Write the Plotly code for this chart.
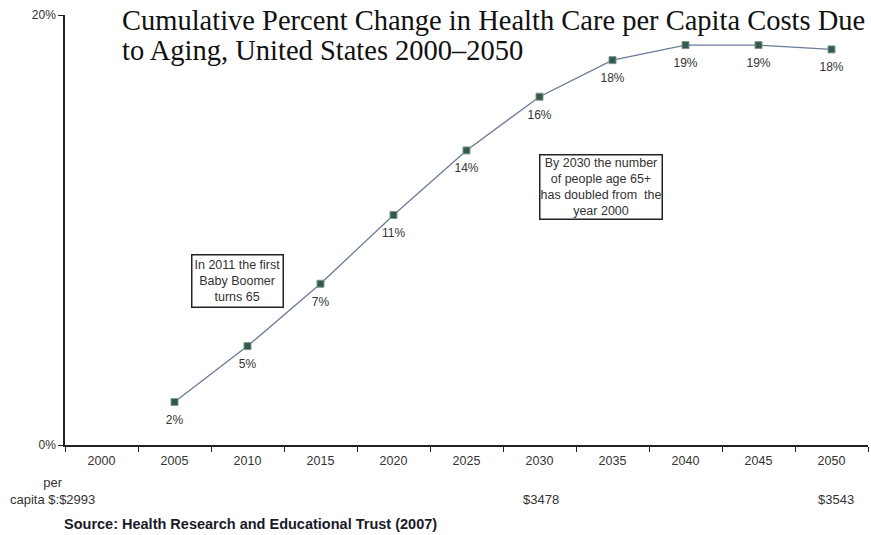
import plotly.graph_objects as go

years = ["2000", "2005", "2010", "2015", "2020", "2025", "2030", "2035", "2040", "2045", "2050"]
point_years = ["2005", "2010", "2015", "2020", "2025", "2030", "2035", "2040", "2045", "2050"]
pct_change = [2.0, 4.6, 7.5, 10.7, 13.7, 16.2, 17.9, 18.6, 18.6, 18.4]
pct_labels = ["2%", "5%", "7%", "11%", "14%", "16%", "18%", "19%", "19%", "18%"]
cost_years = ["2000", "2030", "2050"]
cost_labels = ["per<br>capita $:$2993", "$3478", "$3543"]
y_ticks = [0, 20]
y_tick_text = ["0%", "20%"]

title_lines = ["Cumulative Percent Change in Health Care per Capita Costs Due",
               "to Aging, United States 2000\u20132050"]
note1 = "In 2011 the first<br>Baby Boomer<br>turns 65"
note2 = "By 2030 the number<br>of people age 65+<br>has doubled from  the<br>year 2000"
source = "<b>Source: Health Research and Educational Trust (2007)</b>"

SANS = "Liberation Sans, Arial, sans-serif"
SERIF = "Liberation Serif, Times New Roman, serif"

fig = go.Figure()
fig.add_trace(go.Scatter(
    x=point_years, y=pct_change, mode="lines+markers",
    line=dict(color="#6b7b98", width=1.3),
    marker=dict(symbol="square", size=7, color="#2f5a4c", line=dict(color="#7f9a8c", width=1)),
    cliponaxis=False, showlegend=False,
))
fig.add_trace(go.Scatter(
    x=point_years, y=pct_change, mode="markers+text",
    text=pct_labels, textposition="bottom center",
    textfont=dict(family=SANS, size=12, color="#333333"),
    marker=dict(size=19, color="rgba(0,0,0,0)"),
    hoverinfo="skip", cliponaxis=False, showlegend=False,
))

def py(pix):
    return (445 - pix) / 430

def px(pix):
    return (pix - 65) / 803

annotations = [
    dict(text=title_lines[0], xref="paper", yref="paper", x=px(120), y=py(20),
         xanchor="left", yanchor="middle", showarrow=False,
         font=dict(family=SERIF, size=28.5, color="#111111")),
    dict(text=title_lines[1], xref="paper", yref="paper", x=px(120), y=py(51),
         xanchor="left", yanchor="middle", showarrow=False,
         font=dict(family=SERIF, size=28.5, color="#111111")),
    dict(text=note1, xref="paper", yref="paper", x=px(237), y=py(281),
         xanchor="center", yanchor="middle", showarrow=False,
         font=dict(family=SANS, size=12.5, color="#333333"),
         bordercolor="#222222", borderwidth=1.5, borderpad=2, bgcolor="white"),
    dict(text=note2, xref="paper", yref="paper", x=px(601), y=py(187),
         xanchor="center", yanchor="middle", showarrow=False,
         font=dict(family=SANS, size=12.5, color="#333333"),
         bordercolor="#222222", borderwidth=1.5, borderpad=0, bgcolor="white"),
    dict(text=source, xref="paper", yref="paper", x=px(62), y=py(524),
         xanchor="left", yanchor="middle", showarrow=False,
         font=dict(family=SANS, size=14.5, color="#1a1a2a")),
]
cost_pos = {"2000": (52, 491), "2030": (541, 499), "2050": (836, 499)}
for yr, lab in zip(cost_years, cost_labels):
    cx, cy = cost_pos[yr]
    annotations.append(dict(text=lab, xref="paper", yref="paper", x=px(cx), y=py(cy),
                            xanchor="center", yanchor="middle", showarrow=False,
                            font=dict(family=SANS, size=13, color="#333333")))

fig.update_layout(
    width=871, height=535,
    margin=dict(l=65, r=3, t=15, b=90),
    paper_bgcolor="white", plot_bgcolor="white",
    xaxis=dict(type="category", categoryorder="array", categoryarray=years,
               range=[-0.5, 10.5], tickson="boundaries", ticks="outside", ticklen=5,
               tickcolor="#222222", showline=True, linecolor="#222222", linewidth=1.5,
               showgrid=False, zeroline=False, ticklabelstandoff=3,
               tickfont=dict(family=SANS, size=12.5, color="#333333")),
    yaxis=dict(range=[0, 20], tickvals=y_ticks, ticktext=y_tick_text, ticks="outside",
               ticklen=5, tickcolor="#222222", showline=True, linecolor="#222222", linewidth=1.5,
               showgrid=False, zeroline=False,
               tickfont=dict(family=SANS, size=12, color="#333333")),
    annotations=annotations,
)
fig.write_html("out.html", config={"displayModeBar": False},
               post_script="document.body.style.margin='0';")
